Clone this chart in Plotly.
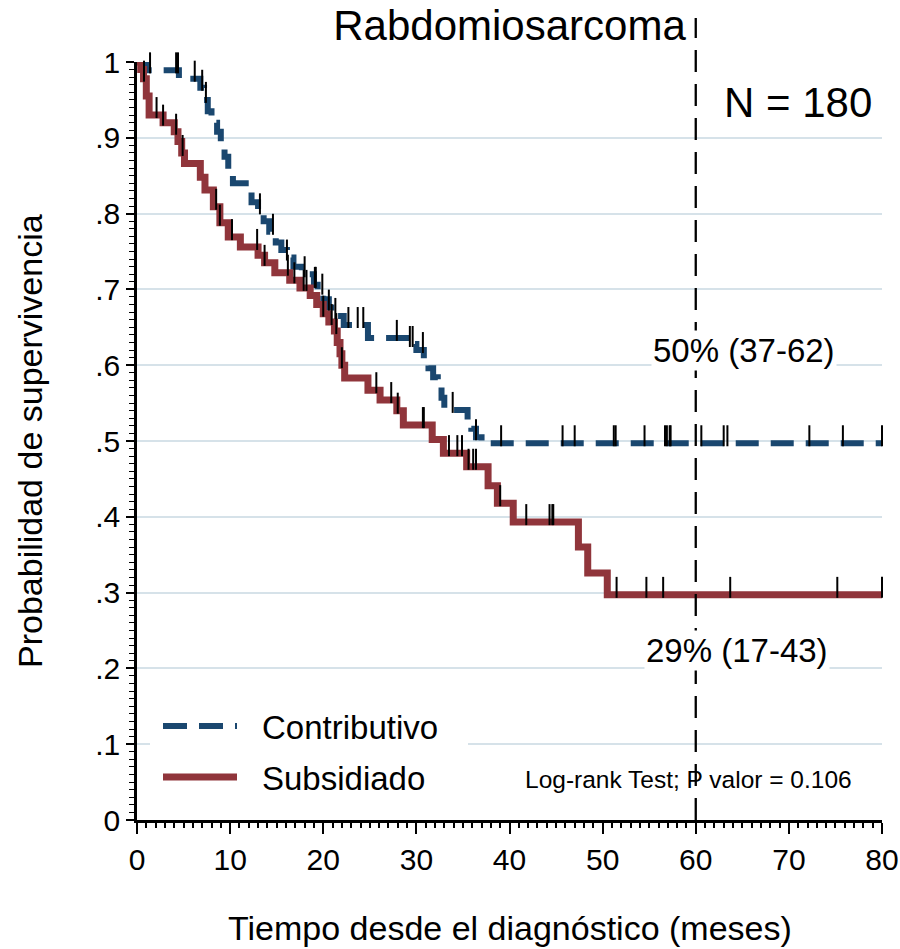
import numpy as np
import plotly.graph_objects as go

# ---------------- data ----------------
contrib_months = [0, 1.0, 4.5, 6.8, 7.2, 7.6, 8.0, 8.6, 9.0, 9.4, 9.8, 10.3, 12.3, 13.0, 13.6,
                  14.2, 14.9, 15.5, 16.1, 16.8, 17.7, 19.0, 19.4, 20.0, 20.6, 21.3, 22.2,
                  24.8, 29.3, 30.0, 30.8, 31.3, 31.8, 32.3, 32.7, 33.0, 35.5, 35.9, 36.4,
                  37.0, 80.0]
contrib_surv = [1.0, 0.989, 0.978, 0.966, 0.95, 0.935, 0.92, 0.908, 0.895, 0.875, 0.858, 0.84,
                0.815, 0.803, 0.79, 0.776, 0.762, 0.752, 0.742, 0.73, 0.72, 0.706, 0.697,
                0.687, 0.676, 0.665, 0.653, 0.636, 0.628, 0.62, 0.608, 0.596, 0.584, 0.571,
                0.557, 0.541, 0.528, 0.516, 0.505, 0.497, 0.497]
contrib_censored = [1.4, 4.2, 4.4, 6.2, 7.0, 7.4, 13.2, 14.6, 16.1, 18.0, 19.1, 19.2, 19.9,
                    20.6, 21.3, 22.7, 23.7, 24.3, 27.9, 29.3, 29.6, 30.7, 33.9, 36.4, 39.1,
                    45.7, 47.0, 51.2, 51.4, 54.5, 56.7, 56.9, 57.2, 57.3, 60.6, 63.0, 63.4,
                    72.2, 75.8, 80.0]

subsid_months = [0, 0.4, 0.7, 1.0, 1.3, 2.8, 4.0, 4.4, 4.8, 5.1, 6.8, 7.3, 8.2, 8.9, 9.8,
                 11.1, 13.0, 13.7, 14.8, 16.4, 17.5, 18.6, 19.3, 20.0, 20.6, 21.2, 21.5,
                 21.8, 22.0, 22.3, 24.8, 26.1, 27.9, 28.6, 31.7, 32.9, 35.4, 37.7, 38.7,
                 40.4, 47.4, 48.4, 50.5, 80.0]
subsid_surv = [1.0, 0.99, 0.978, 0.955, 0.93, 0.92, 0.908, 0.895, 0.88, 0.866, 0.848, 0.831,
               0.809, 0.788, 0.769, 0.756, 0.745, 0.735, 0.722, 0.712, 0.702, 0.692, 0.68,
               0.668, 0.657, 0.645, 0.63, 0.615, 0.60, 0.583, 0.567, 0.554, 0.54, 0.521,
               0.502, 0.484, 0.466, 0.441, 0.418, 0.393, 0.36, 0.326, 0.297, 0.297]
subsid_censored = [0.75, 2.1, 2.8, 4.2, 4.9, 8.5, 8.9, 10.2, 12.9, 13.7, 16.2, 16.9, 17.9,
                   18.2, 20.0, 20.9, 21.4, 22.0, 25.7, 27.3, 28.0, 30.7, 30.8, 33.5, 34.4,
                   34.9, 35.6, 36.1, 36.4, 39.0, 41.8, 44.3, 44.6, 44.7, 51.5, 54.7, 56.5,
                   63.7, 75.2, 80.0]

group_names = ["Contributivo", "Subsidiado"]
x_tick_values = [0, 10, 20, 30, 40, 50, 60, 70, 80]
y_tick_values = [0, 0.1, 0.2, 0.3, 0.4, 0.5, 0.6, 0.7, 0.8, 0.9, 1.0]
y_tick_labels = ["0", ".1", ".2", ".3", ".4", ".5", ".6", ".7", ".8", ".9", "1"]
reference_month = 60

# ---------------- styling ----------------
BLUE = "#1a476f"
RED = "#90353b"
GRID = "rgb(214,226,233)"
FONT = "Liberation Sans, Arial, Helvetica, sans-serif"

W, H = 900, 949
ML, MR, MT, MB = 137, 18, 62, 129
PH = H - MT - MB
tick_half = 7.5 / PH  # censor tick half-height in data units (y range 0..1)


def surv_at(times, surv, t_list):
    times = np.asarray(times)
    surv = np.asarray(surv)
    idx = np.searchsorted(times, np.asarray(t_list), side="right") - 1
    return surv[idx]


fig = go.Figure()

# survival curves
fig.add_trace(go.Scatter(x=contrib_months, y=contrib_surv, mode="lines", line_shape="hv",
                         line=dict(color=BLUE, width=6, dash="23px,12px"),
                         name=group_names[0], showlegend=False))
fig.add_trace(go.Scatter(x=subsid_months, y=subsid_surv, mode="lines", line_shape="hv",
                         line=dict(color=RED, width=7),
                         name=group_names[1], showlegend=False))

# censor ticks
for times, surv, cens in [(contrib_months, contrib_surv, contrib_censored),
                          (subsid_months, subsid_surv, subsid_censored)]:
    ys = surv_at(times, surv, cens) + tick_half
    fig.add_trace(go.Scatter(x=cens, y=ys, mode="markers", cliponaxis=False,
                             marker=dict(symbol="line-ns", size=15,
                                         line=dict(color="black", width=2)),
                             showlegend=False, hoverinfo="skip"))

# vertical reference line at 60 months
fig.add_shape(type="line", xref="x", yref="paper", x0=reference_month, x1=reference_month,
              y0=0, y1=(H - MB - 18) / PH, line=dict(color="black", width=2.3, dash="22px,12px"),
              layer="above")

# custom legend
def px_x(p):
    return (p - ML) / (W - ML - MR)


def px_y(p):
    return (H - MB - p) / PH


fig.add_shape(type="rect", xref="paper", yref="paper", x0=px_x(150), x1=px_x(468),
              y0=px_y(800), y1=px_y(702), fillcolor="white", line=dict(width=0), layer="above")
fig.add_shape(type="line", xref="paper", yref="paper", x0=px_x(163), x1=px_x(237),
              y0=px_y(726), y1=px_y(726), line=dict(color=BLUE, width=6, dash="24px,12px"),
              layer="above")
fig.add_shape(type="line", xref="paper", yref="paper", x0=px_x(163), x1=px_x(237),
              y0=px_y(777), y1=px_y(777), line=dict(color=RED, width=7), layer="above")

annotations = [
    dict(text=group_names[0], xref="paper", yref="paper", x=px_x(260), y=px_y(727),
         xanchor="left", yanchor="middle", showarrow=False, font=dict(size=33)),
    dict(text=group_names[1], xref="paper", yref="paper", x=px_x(260), y=px_y(778),
         xanchor="left", yanchor="middle", showarrow=False, font=dict(size=33)),
    dict(text="N = 180", xref="x", yref="y", x=71.0, y=0.947, showarrow=False,
         xanchor="center", yanchor="middle", font=dict(size=42)),
    dict(text="50% (37-62)", xref="x", yref="y", x=65.2, y=0.619, showarrow=False,
         xanchor="center", yanchor="middle", font=dict(size=33), bgcolor="white"),
    dict(text="29% (17-43)", xref="x", yref="y", x=64.4, y=0.224, showarrow=False,
         xanchor="center", yanchor="middle", font=dict(size=33), bgcolor="white"),
    dict(text="Log-rank Test; P valor = 0.106", xref="x", yref="y", x=59.2, y=0.053,
         showarrow=False, xanchor="center", yanchor="middle", font=dict(size=24.5)),
    dict(text="Probabilidad de supervivencia", xref="paper", yref="paper", x=px_x(30),
         y=0.5, textangle=-90, showarrow=False, xanchor="center", yanchor="middle",
         font=dict(size=34)),
    dict(text="Tiempo desde el diagnóstico (meses)", xref="paper", yref="paper", x=0.5,
         y=px_y(928), showarrow=False, xanchor="center", yanchor="middle",
         font=dict(size=34)),
]

fig.update_layout(
    width=W, height=H, autosize=False,
    margin=dict(l=ML, r=MR, t=MT, b=MB, pad=0, autoexpand=False),
    paper_bgcolor="white", plot_bgcolor="white",
    font=dict(family=FONT, color="black"),
    title=dict(text="Rabdomiosarcoma", x=0.5, xref="paper", xanchor="center",
               y=1 - 25 / H, yref="container", yanchor="middle",
               font=dict(size=42, color="black")),
    annotations=annotations,
    showlegend=False,
)

fig.update_xaxes(range=[0, 80], tickvals=x_tick_values, ticks="outside", ticklen=11,
                 tickwidth=2, tickcolor="black", showline=True, linecolor="black",
                 linewidth=2.5, showgrid=False, zeroline=False, automargin=False,
                 tickfont=dict(size=30, color="black"),
                 minor=dict(dtick=1, ticks="outside", ticklen=5, tickwidth=1.5,
                            tickcolor="black", showgrid=False))
fig.update_yaxes(range=[0, 1], tickvals=y_tick_values, ticktext=y_tick_labels,
                 ticks="outside", ticklen=8, tickwidth=2, tickcolor="black",
                 showline=True, linecolor="black", linewidth=2.5, automargin=False,
                 showgrid=True, gridcolor=GRID, gridwidth=1.5, zeroline=False,
                 tickfont=dict(size=30, color="black"),
                 minor=dict(dtick=0.01, ticks="outside", ticklen=5, tickwidth=1.2,
                            tickcolor="black", showgrid=False))

fig.write_html("out.html",
               config={"displayModeBar": False, "responsive": False},
               post_script="document.body.style.margin='0';document.body.style.padding='0';document.body.style.overflow='hidden';")
